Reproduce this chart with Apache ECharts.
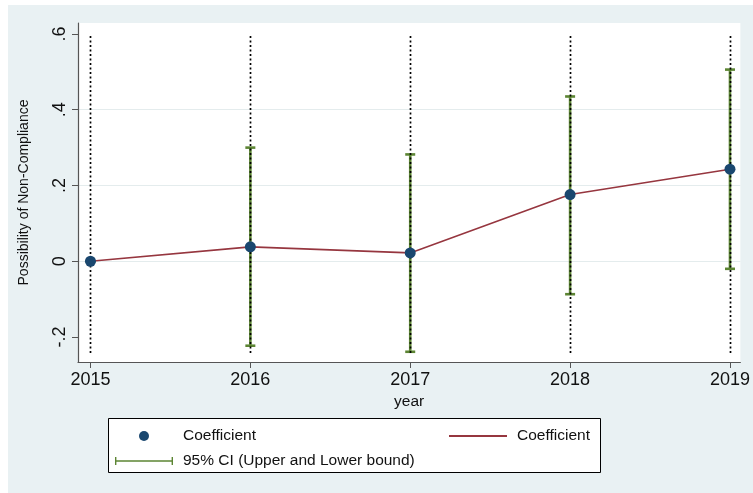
<!DOCTYPE html>
<html>
<head>
<meta charset="utf-8">
<script src="https://cdn.jsdelivr.net/npm/echarts@6/dist/echarts.min.js"></script>
<style>html,body{margin:0;padding:0;background:#fff;}#c{width:753px;height:493px;}</style>
</head>
<body>
<div id="c"></div>
<script>
const years = [2015, 2016, 2017, 2018, 2019];
const coefficient = [0, 0.038, 0.022, 0.176, 0.243];
const ciLower = [0, -0.223, -0.239, -0.087, -0.020];
const ciUpper = [0, 0.300, 0.282, 0.435, 0.506];
const refLineTop = 0.595;
const refLineBottom = -0.242;
const yTicks = [-0.2, 0, 0.2, 0.4, 0.6];
const yTickLabels = ['-.2', '0', '.2', '.4', '.6'];
const xTicks = [2015, 2016, 2017, 2018, 2019];

const FONT = 'Liberation Sans, Arial, sans-serif';
const chart = echarts.init(document.getElementById('c'), null, {renderer: 'canvas'});

const ciColor = '#5c8533';
const option = {
  backgroundColor: '#ffffff',
  animation: false,
  graphic: [
    {type: 'rect', z: -10, shape: {x: 8, y: 5, width: 745, height: 488}, style: {fill: '#e9f1f3'}},
    {type: 'rect', z: 0, shape: {x: 108.5, y: 418.5, width: 492, height: 54}, style: {fill: '#ffffff', stroke: '#000', lineWidth: 1}}
  ],
  grid: {left: 78, right: 9, top: 23, bottom: 131, show: true, backgroundColor: '#ffffff', borderWidth: 0, containLabel: false},
  xAxis: {
    type: 'value', min: 2014.922, max: 2019.065,
    name: 'year', nameLocation: 'middle', nameGap: 30,
    nameTextStyle: {fontFamily: FONT, fontSize: 15.5, color: '#111'},
    axisLine: {show: true, onZero: false, lineStyle: {color: '#555', width: 1.2}},
    axisTick: {show: true, length: 6, customValues: xTicks, lineStyle: {color: '#555'}},
    axisLabel: {customValues: xTicks, formatter: v => String(v), fontFamily: FONT, fontSize: 18, color: '#111', margin: 9},
    splitLine: {show: false}
  },
  yAxis: {
    type: 'value', min: -0.266, max: 0.629,
    name: 'Possibility of Non-Compliance', nameLocation: 'middle', nameGap: 47,
    nameTextStyle: {fontFamily: FONT, fontSize: 14, color: '#111'},
    axisLine: {show: true, onZero: false, lineStyle: {color: '#555', width: 1.2}},
    axisTick: {show: true, length: 6, customValues: yTicks, lineStyle: {color: '#555'}},
    axisLabel: {customValues: yTicks, rotate: 90, margin: 9, fontFamily: FONT, fontSize: 18, color: '#111',
      formatter: v => { const i = yTicks.findIndex(t => Math.abs(t - v) < 1e-6); return i >= 0 ? yTickLabels[i] : ''; }},
    splitLine: {show: true, showMinLine: false, showMaxLine: false, lineStyle: {color: '#e4eced', width: 1.2}}
  },
  legend: [
    {left: 139, top: 428, itemWidth: 10, itemHeight: 10, data: [{name: 'pt', icon: 'circle'}],
      formatter: () => 'Coefficient', textStyle: {fontFamily: FONT, fontSize: 15.5, color: '#111', padding: [0, 0, 0, 29]}, selectedMode: false, padding: 0},
    {left: 449, top: 428, itemWidth: 58, itemHeight: 2, data: [{name: 'line', icon: 'rect'}],
      formatter: () => 'Coefficient', textStyle: {fontFamily: FONT, fontSize: 15.5, color: '#111', padding: [0, 0, 0, 5]}, selectedMode: false, padding: 0},
    {left: 115, top: 453, itemWidth: 58, itemHeight: 8, data: [{name: 'ci', icon: 'path://M0,0h1.4v3.3h55.2v-3.3h1.4v8h-1.4v-3.3h-55.2v3.3h-1.4z'}],
      formatter: () => '95% CI (Upper and Lower bound)', textStyle: {fontFamily: FONT, fontSize: 15.5, color: '#111', padding: [0, 0, 0, 5]}, selectedMode: false, padding: 0}
  ],
  series: [
    {
      name: 'ci', type: 'custom', z: 3,
      itemStyle: {color: ciColor},
      data: years.map((y, i) => [y, ciLower[i], ciUpper[i]]),
      renderItem: (params, api) => {
        const x = api.value(0);
        const lo = api.coord([x, api.value(1)]);
        const hi = api.coord([x, api.value(2)]);
        const cw = 5;
        const st = {stroke: ciColor, lineWidth: 2.6};
        return {type: 'group', children: [
          {type: 'line', shape: {x1: lo[0], y1: lo[1], x2: hi[0], y2: hi[1]}, style: st},
          {type: 'line', shape: {x1: lo[0] - cw, y1: lo[1], x2: lo[0] + cw, y2: lo[1]}, style: st},
          {type: 'line', shape: {x1: hi[0] - cw, y1: hi[1], x2: hi[0] + cw, y2: hi[1]}, style: st}
        ]};
      }
    },
    {
      name: 'ref', type: 'custom', z: 4,
      data: years.map(y => [y, refLineBottom, refLineTop]),
      renderItem: (params, api) => {
        const x = api.value(0);
        const a = api.coord([x, api.value(1)]);
        const b = api.coord([x, api.value(2)]);
        return {type: 'line', shape: {x1: Math.round(a[0]) + 0.5, y1: a[1], x2: Math.round(b[0]) + 0.5, y2: b[1]},
          style: {stroke: '#000', lineWidth: 1.7, lineDash: [2, 2.5]}};
      }
    },
    {
      name: 'line', type: 'line', z: 5, symbol: 'none',
      data: years.map((y, i) => [y, coefficient[i]]),
      lineStyle: {color: '#96363f', width: 1.6}, itemStyle: {color: '#96363f'}
    },
    {
      name: 'pt', type: 'scatter', z: 6, symbol: 'circle', symbolSize: 11,
      data: years.map((y, i) => [y, coefficient[i]]),
      itemStyle: {color: '#1a476f', opacity: 1}
    }
  ]
};
chart.setOption(option);
</script>
</body>
</html>
